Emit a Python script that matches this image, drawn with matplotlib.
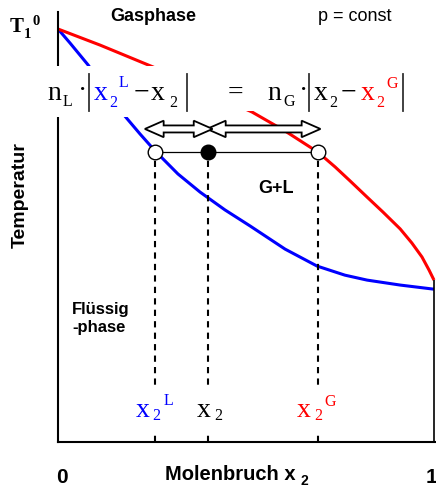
import matplotlib
matplotlib.use("Agg")
import matplotlib.pyplot as plt
from matplotlib.patches import Rectangle, Polygon
from matplotlib.lines import Line2D

# ---- data (mole fraction x2, reduced temperature) ----
liq_x = [0.000, 0.032, 0.080, 0.125, 0.178, 0.218, 0.258, 0.319, 0.378, 0.444,
         0.511, 0.604, 0.689, 0.763, 0.822, 0.910, 1.000]
liq_T = [1.000, 0.966, 0.913, 0.855, 0.789, 0.746, 0.705, 0.649, 0.605, 0.562,
         0.523, 0.467, 0.426, 0.404, 0.392, 0.380, 0.370]
gas_x = [0.000, 0.112, 0.253, 0.378, 0.516, 0.604, 0.691, 0.737, 0.777, 0.822,
         0.864, 0.910, 0.941, 0.968, 0.987, 1.000]
gas_T = [1.000, 0.961, 0.908, 0.855, 0.799, 0.753, 0.702, 0.666, 0.632, 0.593,
         0.557, 0.516, 0.482, 0.448, 0.416, 0.392]
tie_T = 0.702
x2_L, x2_tot, x2_G = 0.258, 0.399, 0.691
arrow_T = 0.758
xtick_labels = ["0", "1"]

W, H = 436, 489
fig = plt.figure(figsize=(W / 100, H / 100), dpi=100)

def fx(px):
    return px / W

def fy(py):
    return 1 - py / H

ax = fig.add_axes([fx(58), fy(443), fx(436) - fx(58), fy(13) - fy(443)])
ax.set_xlim(0, (436 - 58) / 376)
ax.set_ylim(0, (443 - 13) / 413)
for s in ["top", "right"]:
    ax.spines[s].set_visible(False)
for s in ["left", "bottom"]:
    ax.spines[s].set_linewidth(1.5)
ax.set_xticks([])
ax.set_yticks([])

ax.plot(liq_x, liq_T, color="#0000ff", lw=2.2, solid_capstyle="butt", solid_joinstyle="round")
ax.plot(gas_x, gas_T, color="#ff0000", lw=2.2, solid_capstyle="butt", solid_joinstyle="round")
ax.vlines(1.0, 0, gas_T[-1], color="black", lw=1.2)

# dashed verticals
for xv in [x2_L, x2_tot, x2_G]:
    ax.plot([xv, xv], [0, tie_T], color="black", lw=1.5, ls=(0, (3, 2.5)), zorder=2)

# tie line and points
ax.plot([x2_L, x2_G], [tie_T, tie_T], color="black", lw=0.9, zorder=3)
ax.plot([x2_L, x2_G], [tie_T, tie_T], "o", ms=10.5, mfc="white", mec="black", mew=1.0, zorder=4)
ax.plot([x2_tot], [tie_T], "o", ms=10.5, mfc="black", mec="black", zorder=4)

# hollow double arrows
hl, hw, sw = 0.050, 0.020, 0.0085
def double_arrow(x0, x1, y):
    pts = [(x0, y), (x0 + hl, y + hw), (x0 + hl, y + sw), (x1 - hl, y + sw),
           (x1 - hl, y + hw), (x1, y), (x1 - hl, y - hw), (x1 - hl, y - sw),
           (x0 + hl, y - sw), (x0 + hl, y - hw)]
    ax.add_patch(Polygon(pts, closed=True, facecolor="white", edgecolor="black",
                         lw=1.3, zorder=5, joinstyle="miter"))

double_arrow(x2_tot - 0.003, x2_G + 0.007, arrow_T)
double_arrow(x2_L - 0.027, x2_tot + 0.012, arrow_T)

# white masks
def mask(x0, y0, x1, y1):
    fig.patches.append(Rectangle((fx(x0), fy(y1)), fx(x1) - fx(x0), fy(y0) - fy(y1),
                                 transform=fig.transFigure, facecolor="white",
                                 edgecolor="none", zorder=1))
mask(40, 67, 196, 118)
mask(196, 67, 412, 112)
mask(130, 388, 180, 432)
mask(193, 388, 228, 432)
mask(292, 388, 342, 432)

SERIF = "Liberation Serif"
SANS = "Liberation Sans"

def t(px, py, s, size, color="black", family=SERIF, weight="normal", ha="left", **kw):
    fig.text(fx(px), fy(py), s, fontsize=size, color=color, family=family,
             weight=weight, ha=ha, va="baseline", zorder=3, **kw)

def bar(px):
    fig.lines.append(Line2D([fx(px), fx(px)], [fy(75), fy(112)], transform=fig.transFigure,
                            color="#333333", lw=1.3, zorder=3))

BIG, SMALL = 20, 11.5
BLUE, RED = "#0000ff", "#ff0000"
# left side of equation
t(47, 100, "n", BIG)
t(63, 106, "L", SMALL)
t(78, 98, "·", BIG)
bar(89)
t(94, 100, "x", BIG, BLUE)
t(109, 107, "2", SMALL, BLUE)
t(119, 87, "L", SMALL, BLUE)
t(134, 100, "−", BIG)
t(151, 100, "x", BIG)
t(169, 107, "2", SMALL)
bar(187)
t(228, 100, "=", BIG)
# right side
t(267, 100, "n", BIG)
t(283, 106, "G", SMALL)
t(299, 98, "·", BIG)
bar(309)
t(314, 100, "x", BIG)
t(329, 107, "2", SMALL)
t(341, 100, "−", BIG)
t(361, 100, "x", BIG, RED)
t(376, 107, "2", SMALL, RED)
t(386, 88, "G", SMALL, RED)
bar(403)

# bottom labels
t(136, 417, "x", BIG, BLUE)
t(152, 420, "2", SMALL, BLUE)
t(164, 405, "L", SMALL, BLUE)
t(197, 417, "x", BIG)
t(214, 420, "2", SMALL)
t(297, 417, "x", BIG, RED)
t(314, 420, "2", SMALL, RED)
t(324, 406, "G", SMALL, RED)

# T1^0
t(10, 32, "T", 15, weight="bold")
t(24, 38, "1", 10.5, weight="bold")
t(32, 25, "0", 10.5, weight="bold")

# other labels
t(110, 21, "Gasphase", 13, family=SANS, weight="bold")
t(318, 21, "p = const", 13, family=SANS)
t(72, 314, "Flüssig", 12, family=SANS, weight="bold")
t(72, 332, "-phase", 12, family=SANS, weight="bold")
t(258, 193, "G+L", 13, family=SANS, weight="bold")
t(165, 480, "Molenbruch x", 14.5, family=SANS, weight="bold")
t(300, 485, "2", 10, family=SANS, weight="bold")
t(62, 483, xtick_labels[0], 15, family=SANS, weight="bold", ha="center")
t(431, 483, xtick_labels[1], 15, family=SANS, weight="bold", ha="center")
fig.text(fx(20), fy(195), "Temperatur", fontsize=14, family=SANS, weight="bold",
         rotation=90, ha="center", va="center")

fig.savefig("out.png", dpi=100)
